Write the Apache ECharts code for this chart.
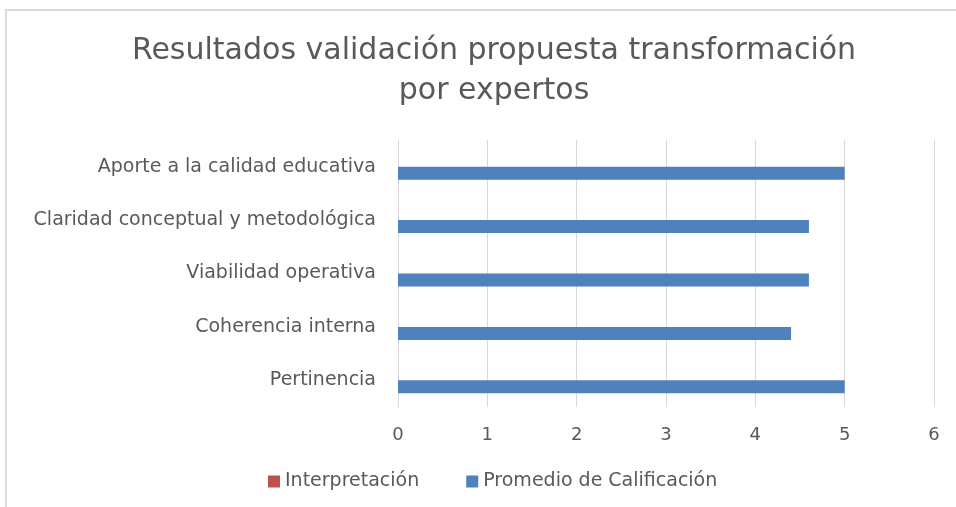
<!DOCTYPE html>
<html>
<head>
<meta charset="utf-8">
<script src="https://cdn.jsdelivr.net/npm/echarts@6/dist/echarts.min.js"></script>
<style>
  html, body { margin: 0; padding: 0; background: #fff; }
  #chart { width: 956px; height: 507px; }
</style>
</head>
<body>
<div id="chart"></div>
<script>
(function () {
    'use strict';

    // Categories listed bottom to top, as the bar chart draws them
    const categories = [
        'Pertinencia',
        'Coherencia interna',
        'Viabilidad operativa',
        'Claridad conceptual y metodológica',
        'Aporte a la calidad educativa'
    ];
    const interpretacion = [null, null, null, null, null];
    const promedio = [5, 4.4, 4.6, 4.6, 5];
    const xTicks = [0, 1, 2, 3, 4, 5, 6];

    const textColor = '#595959';
    const fontFamily = '"DejaVu Sans", "Open Sans", sans-serif';

    const chart = echarts.init(document.getElementById('chart'));

    chart.setOption({
        animation: false,
        textStyle: { fontFamily: fontFamily },
        graphic: [{
            type: 'rect',
            shape: { x: 6, y: 10, width: 960, height: 510 },
            style: { fill: 'none', stroke: '#d9d9d9', lineWidth: 2 },
            silent: true
        }],
        title: {
            text: 'Resultados validación propuesta transformación\npor expertos',
            left: 489,
            textAlign: 'center',
            top: 26,
            textStyle: {
                color: textColor,
                fontSize: 30,
                fontWeight: 'normal',
                lineHeight: 40,
                fontFamily: fontFamily
            }
        },
        legend: {
            bottom: 11,
            left: 263,
            itemWidth: 12,
            itemHeight: 12,
            itemGap: 47,
            icon: 'rect',
            textStyle: { color: textColor, fontSize: 19, fontFamily: fontFamily },
            data: ['Interpretación', 'Promedio de Calificación']
        },
        grid: {
            left: 398,
            right: 22,
            top: 140,
            bottom: 100,
            containLabel: false
        },
        xAxis: {
            type: 'value',
            min: xTicks[0],
            max: xTicks[xTicks.length - 1],
            interval: 1,
            axisLine: { show: false },
            axisTick: { show: false },
            splitLine: { lineStyle: { color: '#d9d9d9', width: 1 } },
            axisLabel: { color: textColor, fontSize: 18, margin: 19 }
        },
        yAxis: {
            type: 'category',
            data: categories,
            axisLine: { show: true, lineStyle: { color: '#d9d9d9' } },
            axisTick: { show: false },
            axisLabel: { color: textColor, fontSize: 19, margin: 22 }
        },
        series: [
            {
                name: 'Interpretación',
                type: 'bar',
                data: interpretacion,
                barWidth: 13,
                barGap: '0%',
                itemStyle: { color: '#c0504d' }
            },
            {
                name: 'Promedio de Calificación',
                type: 'bar',
                data: promedio,
                barWidth: 13,
                barGap: '0%',
                itemStyle: { color: '#4f81bd' }
            }
        ]
    });
}());
</script>
</body>
</html>
